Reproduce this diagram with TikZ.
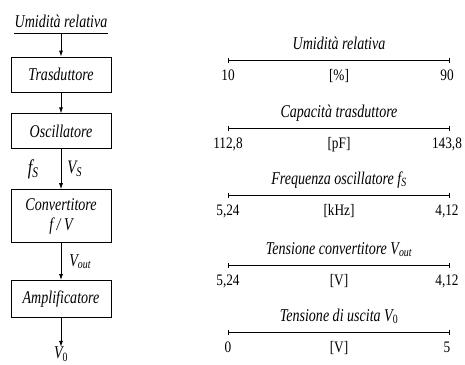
\documentclass[tikz,border=0pt]{standalone}
\usepackage{fontspec}
\setmainfont{Liberation Serif}[FakeStretch=0.78]
\newfontfamily\cifre{Liberation Serif}[FakeStretch=0.83]
\usetikzlibrary{arrows.meta,positioning}

\begin{document}
\begin{tikzpicture}[
 x=1pt,y=-1pt,line width=0.8pt,
 blocco/.style={draw,minimum width=100pt,minimum height=35pt,align=center,font=\fontsize{18}{20}\selectfont\itshape},
 segnale/.style={inner sep=0pt,font=\fontsize{18}{20}\selectfont\itshape},
 freccia/.style={-{Latex[length=6pt,width=4pt]}},
 scala/.style={{Bar[width=5pt]}-{Bar[width=5pt]}},
 titolo/.style={inner sep=0pt,anchor=base,yshift=11pt,font=\fontsize{18}{20}\selectfont\itshape},
 unita/.style={inner sep=0pt,anchor=base,yshift=-20pt,font=\fontsize{16}{20}\cifre},
 num/.style={unita},
 numdx/.style={unita,xshift=-3pt}
]
\useasboundingbox (0,0) rectangle (465,364);
% schema a blocchi
\node[segnale,anchor=base,inner ysep=6pt] (ingresso) at (61,27) {Umidità relativa};
\node[blocco] (trasd) at (61,74.5) {Trasduttore};
\node[blocco,below=21pt of trasd] (oscill) {Oscillatore};
\node[blocco,below=40pt of oscill,minimum height=53pt] (conv) {Convertitore\\f / V};
\node[blocco,below=37pt of conv,minimum height=37pt] (ampl) {Amplificatore};
\node[segnale,below=29pt of ampl] (uscita) {V\textsubscript{\upshape 0}};
\draw (ingresso.south west) -- (ingresso.south east);
\draw[freccia] (ingresso.south) -- (trasd);
\draw[freccia] (trasd) -- (oscill);
\draw[freccia] (oscill) -- node[segnale,left=22pt,font=\fontsize{21}{22}\selectfont\itshape]{f\textsubscript{S}} node[segnale,right=6pt,font=\fontsize{19}{22}\selectfont\itshape]{V\textsubscript{S}} (conv);
\draw[freccia] (conv) -- node[segnale,right=8pt]{V\textsubscript{out}} (ampl);
\draw[freccia] (ampl) -- (uscita);
% scale
\coordinate (u1a) at (228,60); \coordinate (u1b) at (450,60);
\coordinate (u2a) at (228,128); \coordinate (u2b) at (450,128);
\coordinate (u3a) at (228,195); \coordinate (u3b) at (450,195);
\coordinate (u4a) at (228,265); \coordinate (u4b) at (450,265);
\coordinate (u5a) at (228,332); \coordinate (u5b) at (450,332);
\draw[scala] (u1a) -- node[titolo]{Umidità relativa} node[unita]{[\%]} (u1b);
\node[num] at (u1a) {10}; \node[numdx] at (u1b) {90};
\draw[scala] (u2a) -- node[titolo]{Capacità trasduttore} node[unita]{[pF]} (u2b);
\node[num] at (u2a) {112,8}; \node[numdx] at (u2b) {143,8};
\draw[scala] (u3a) -- node[titolo]{Frequenza oscillatore f\textsubscript{S}} node[unita]{[kHz]} (u3b);
\node[num] at (u3a) {5,24}; \node[numdx] at (u3b) {4,12};
\draw[scala] (u4a) -- node[titolo]{Tensione convertitore V\textsubscript{out}} node[unita]{[V]} (u4b);
\node[num] at (u4a) {5,24}; \node[numdx] at (u4b) {4,12};
\draw[scala] (u5a) -- node[titolo]{Tensione di uscita V\textsubscript{\upshape 0}} node[unita]{[V]} (u5b);
\node[num] at (u5a) {0}; \node[numdx] at (u5b) {5};
\end{tikzpicture}
\end{document}
